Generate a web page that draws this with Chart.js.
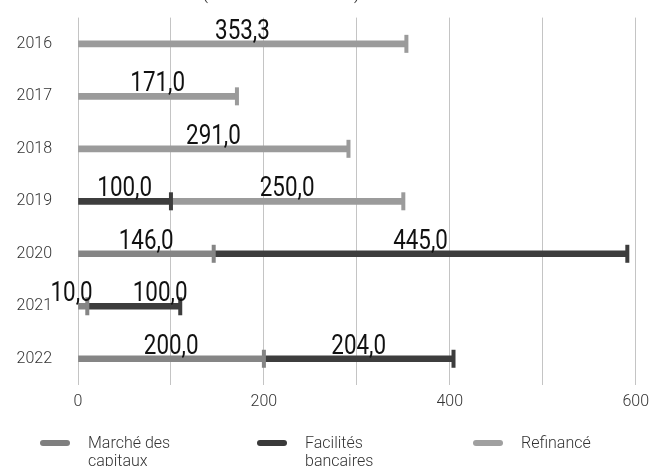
<!DOCTYPE html>
<html>
<head>
<meta charset="utf-8">
<script src="https://cdn.jsdelivr.net/npm/chart.js@4.4.0/dist/chart.umd.min.js"></script>
<style>
  html, body { margin: 0; padding: 0; background: #fff; overflow: hidden; }
  #wrap { position: relative; width: 656px; height: 466px; overflow: hidden; }
  #barchart { position: absolute; left: 0; top: -18px; }
  #legend { position: absolute; left: 0; top: 434px; width: 656px; height: 40px;
    font-family: 'Roboto', sans-serif; font-weight: 300; font-size: 16px; color: #333; }
  .item { position: absolute; top: 0; }
  .swatch { position: absolute; left: 0; top: 6px; width: 30px; height: 6px; border-radius: 3px; }
  .txt { position: absolute; left: 48px; top: 0; line-height: 18px; }
</style>
</head>
<body>
<div id="wrap">
  <canvas id="barchart" width="656" height="484"></canvas>
  <div id="legend"></div>
</div>
<script>
var years = ['2016', '2017', '2018', '2019', '2020', '2021', '2022'];
var marcheCapitaux = [null, null, null, null, 146.0, 10.0, 200.0];
var facilitesBancaires = [null, null, null, 100.0, 445.0, 100.0, 204.0];
var refinance = [353.3, 171.0, 291.0, 250.0, null, null, null];
var xTicks = [0, 200, 400, 600];

var seriesNames = ['Marché des capitaux', 'Facilités bancaires', 'Refinancé'];
var seriesColors = ['#858585', '#3d3d3d', '#9b9b9b'];

// caps at the end of each segment + value labels above
var capsAndLabels = {
  id: 'capsAndLabels',
  afterDatasetsDraw: function(chart) {
    var ctx = chart.ctx;
    var rows = {};
    chart.data.datasets.forEach(function(ds, i) {
      var meta = chart.getDatasetMeta(i);
      meta.data.forEach(function(el, j) {
        var v = ds.data[j];
        if (v == null) return;
        ctx.fillStyle = ds.backgroundColor;
        ctx.fillRect(el.x - 2, el.y - 9, 4, 18);
        ctx.font = '400 28px Roboto';
        var txt = v.toFixed(1).replace('.', ',');
        var w = ctx.measureText(txt).width * 0.8;
        (rows[j] = rows[j] || []).push({ txt: txt, cx: (el.base + el.x) / 2, y: el.y - 5, w: w });
      });
    });
    Object.keys(rows).forEach(function(k) {
      var r = rows[k];
      // push crowded labels apart
      for (var n = 1; n < r.length; n++) {
        var a = r[n - 1], b = r[n];
        var gap = (b.cx - b.w / 2) - (a.cx + a.w / 2);
        if (gap < 40) {
          var need = 40 - gap;
          a.cx -= need * 0.3;
          b.cx += need * 0.7;
        }
      }
      r.forEach(function(l) {
        ctx.save();
        ctx.translate(l.cx, l.y);
        ctx.scale(0.8, 1);
        ctx.fillStyle = '#111';
        ctx.font = '400 28px Roboto';
        ctx.textAlign = 'center';
        ctx.textBaseline = 'alphabetic';
        ctx.fillText(l.txt, 0, 0);
        ctx.restore();
      });
    });
  }
};

// title sits above the visible area, only its bottom shows
var clippedTitle = {
  id: 'clippedTitle',
  afterDraw: function(chart) {
    var ctx = chart.ctx;
    ctx.save();
    ctx.fillStyle = '#333';
    ctx.font = '300 18px Roboto';
    ctx.textAlign = 'center';
    ctx.fillText("(en millions d'euros)", 281, 17);
    ctx.restore();
  }
};

var ctx = document.getElementById('barchart').getContext('2d');
var myChart = new Chart(ctx, {
  type: 'bar',
  data: {
    labels: years,
    datasets: [
      { label: seriesNames[0], data: marcheCapitaux, backgroundColor: seriesColors[0] },
      { label: seriesNames[1], data: facilitesBancaires, backgroundColor: seriesColors[1] },
      { label: seriesNames[2], data: refinance, backgroundColor: seriesColors[2] }
    ]
  },
  options: {
    indexAxis: 'y',
    responsive: false,
    animation: false,
    barThickness: 6,
    borderWidth: 0,
    layout: { padding: { left: 0, right: 16, top: 17, bottom: 51 } },
    plugins: {
      legend: { display: false },
      tooltip: { enabled: false }
    },
    scales: {
      x: {
        stacked: true,
        min: 0,
        max: 600,
        border: { display: false },
        grid: { color: '#c4c4c4', lineWidth: 1, drawTicks: false },
        ticks: {
          stepSize: 100,
          padding: 7,
          color: '#333',
          font: { family: 'Roboto', weight: '300', size: 16 },
          callback: function(value) {
            return xTicks.indexOf(value) >= 0 ? value : '';
          }
        },
        afterFit: function(scale) { scale.height = 30; }
      },
      y: {
        stacked: true,
        border: { display: false },
        grid: { display: false, drawTicks: false },
        ticks: {
          padding: 26,
          color: '#333',
          font: { family: 'Roboto', weight: '300', size: 16 }
        },
        afterFit: function(scale) { scale.width = 78; }
      }
    }
  },
  plugins: [capsAndLabels, clippedTitle]
});

// legend with wrapped labels
var legendLeft = [40, 257, 473];
var legendWidth = [95, 80, 120];
var legendColors = ['#7f7f7f', '#3a3a3a', '#a0a0a0'];
var legend = document.getElementById('legend');
seriesNames.forEach(function(name, i) {
  var item = document.createElement('div');
  item.className = 'item';
  item.style.left = legendLeft[i] + 'px';
  var sw = document.createElement('div');
  sw.className = 'swatch';
  sw.style.background = legendColors[i];
  var t = document.createElement('div');
  t.className = 'txt';
  t.style.width = legendWidth[i] + 'px';
  t.textContent = name;
  item.appendChild(sw);
  item.appendChild(t);
  legend.appendChild(item);
});
</script>
</body>
</html>
